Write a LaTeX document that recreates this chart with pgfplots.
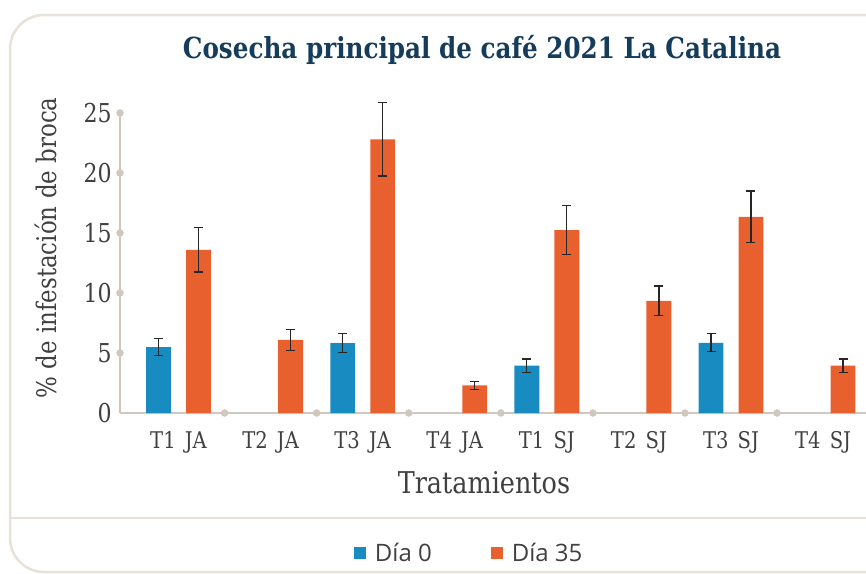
\documentclass[border=0pt]{standalone}
\usepackage{fontspec}
\setmainfont{DejaVu Serif}[FakeStretch=0.85]
\newfontfamily\legfont{Open Sans}
\usepackage{pgfplots}
\pgfplotsset{compat=1.18}
\definecolor{cblue}{RGB}{24,139,192}
\definecolor{corange}{RGB}{233,96,47}
\definecolor{navy}{RGB}{22,60,92}
\definecolor{axgray}{RGB}{208,200,191}
\definecolor{framecol}{RGB}{231,225,215}
\definecolor{txtgray}{RGB}{64,64,64}
\pgfplotsset{myerr/.style={error bars/.cd, y dir=both, y explicit,
  error bar style={line width=1.2pt, draw=black!85},
  error mark options={rotate=90, mark size=4.5pt, line width=1.2pt, draw=black!85}}}
\begin{document}
\begin{tikzpicture}
\useasboundingbox (0pt,0pt) rectangle (866pt,-573pt);
\clip (0pt,0pt) rectangle (866pt,-573pt);
\draw[framecol, line width=2.5pt, rounded corners=34pt] (10pt,-15pt) rectangle (960pt,-572pt);
\draw[framecol, line width=2pt] (10pt,-518pt) -- (880pt,-518pt);
\node[text=navy, font=\fontsize{29}{34}\selectfont\bfseries, anchor=base, inner sep=0pt] at (482pt,-58pt) {Cosecha principal de café 2021 La Catalina};
\begin{axis}[
  at={(120pt,-413pt)}, anchor=south west,
  scale only axis, width=758.3pt, height=300pt,
  xmin=-0.636, xmax=7.6, ymin=0, ymax=25,
  ybar, bar width=0.27, clip=false,
  axis lines=left,
  axis line style={-, draw=axgray, line width=2pt},
  major tick length=0pt,
  xtick={0,...,7},
  xticklabels={T1\hspace{0.4em}JA, T2\hspace{0.4em}JA, T3\hspace{0.4em}JA, T4\hspace{0.4em}JA, T1\hspace{0.4em}SJ, T2\hspace{0.4em}SJ, T3\hspace{0.4em}SJ, T4\hspace{0.4em}SJ},
  ytick={0,5,...,25},
  /pgf/number format/assume math mode=true,
  xticklabel style={anchor=base, inner sep=0pt, yshift=-35pt, font=\fontsize{23}{27}\selectfont, text=txtgray},
  yticklabel style={anchor=east, inner sep=0pt, xshift=-8pt, font=\fontsize{26}{30}\selectfont, text=txtgray},
  xlabel={Tratamientos},
  xlabel style={at={(rel axis cs:0.48,-0.2667)}, anchor=base, inner sep=0pt, font=\fontsize{30}{36}\selectfont, text=txtgray},
  ylabel={\% de infestación de broca},
  ylabel style={at={(rel axis cs:-0.0831,0.55)}, anchor=base, inner sep=0pt, font=\fontsize{27}{32}\selectfont, text=txtgray},
  legend columns=2,
  legend style={at={(rel axis cs:0.4605,-0.4667)}, anchor=center, draw=none, fill=none, font=\legfont\fontsize{24}{28}\selectfont, text=txtgray, /tikz/every even column/.append style={column sep=57pt}},
  legend image code/.code={\fill[#1] (0pt,-6pt) rectangle (12pt,6pt); \path (19pt,0pt);},
]
\addplot[fill=cblue, draw=none, bar shift=-0.217, myerr] coordinates {
  (0,5.5) +- (0,0.7)
  (2,5.83) +- (0,0.78)
  (4,3.95) +- (0,0.55)
  (6,5.85) +- (0,0.75)
};
\addplot[fill=corange, draw=none, bar shift=0.217, myerr] coordinates {
  (0,13.6) +- (0,1.85)
  (1,6.1) +- (0,0.86)
  (2,22.8) +- (0,3.05)
  (3,2.3) +- (0,0.32)
  (4,15.25) +- (0,2.05)
  (5,9.35) +- (0,1.23)
  (6,16.35) +- (0,2.15)
  (7,3.95) +- (0,0.55)
};
\addplot[only marks, mark=*, mark size=3.5pt, color=axgray, forget plot] coordinates {
  (-0.636,5) (-0.636,10) (-0.636,15) (-0.636,20) (-0.636,25)
  (0.5,0) (1.5,0) (2.5,0) (3.5,0) (4.5,0) (5.5,0) (6.5,0) (7.5,0)
};
\legend{Día 0, Día 35}
\end{axis}
\end{tikzpicture}
\end{document}
